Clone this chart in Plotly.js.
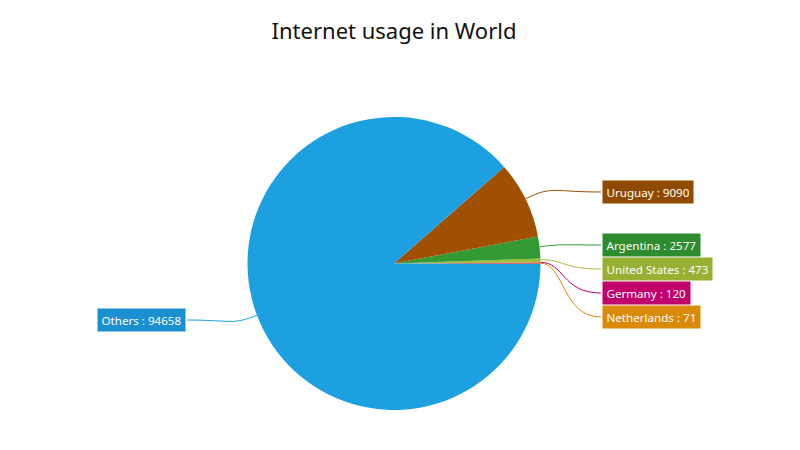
<!DOCTYPE html>
<html><head><meta charset="utf-8">
<script src="https://cdn.plot.ly/plotly-3.0.1.min.js"></script>
<style>html,body{margin:0;padding:0;background:#fff;}#chart{width:800px;height:450px;}</style>
</head><body><div id="chart"></div>
<script>
// Data
var countries = ["Netherlands", "Germany", "United States", "Argentina", "Uruguay", "Others"];
var users = [71, 120, 473, 2577, 9090, 94658];
var sliceColors = ["#E08A00", "#CC0070", "#A0BE3C", "#339933", "#A05000", "#1DA0E0"];
var labelColors = ["#D98A0A", "#C2006B", "#97B033", "#2E8B2E", "#8F4A00", "#1A90D0"];

// Layout constants (pixels)
var W = 800, H = 450;
var cx = 394, cy = 263.5, R = 146.5;
var rightLabelX = 602;
var labelCenterY = {"Uruguay": 192, "Argentina": 245, "United States": 269, "Germany": 293, "Netherlands": 317, "Others": 320};
var leftLabelRightX = 186;

function px(x){ return x / W; }
function py(y){ return 1 - y / H; }

var total = users.reduce(function(a,b){return a+b;}, 0);
var shapes = [], annotations = [];
var cum = 0;
for (var i = 0; i < countries.length; i++) {
  var a0 = cum / total * 360;
  cum += users[i];
  var a1 = cum / total * 360;
  var mid = (a0 + a1) / 2 * Math.PI / 180;
  var ex = cx + R * Math.cos(mid), ey = cy - R * Math.sin(mid);
  var ly = labelCenterY[countries[i]];
  var right = Math.cos(mid) >= 0;
  var endX = right ? rightLabelX - 1 : leftLabelRightX + 1;
  var dx = endX - ex;
  var c1x = ex + Math.cos(mid) * Math.abs(dx) * 0.4, c1y = ey - Math.sin(mid) * Math.abs(dx) * 0.4;
  var c2x = ex + dx * 0.35, c2y = ly;
  var path = "M " + px(ex) + "," + py(ey) + " C " + px(c1x) + "," + py(c1y) + " " + px(c2x) + "," + py(c2y) + " " + px(endX) + "," + py(ly);
  shapes.push({type: "path", xref: "paper", yref: "paper", path: path, line: {color: sliceColors[i], width: 1}});
  annotations.push({
    xref: "paper", yref: "paper",
    x: right ? px(rightLabelX) : px(leftLabelRightX),
    y: py(ly),
    xanchor: right ? "left" : "right", yanchor: "middle",
    text: countries[i] + " : " + users[i],
    showarrow: false,
    bgcolor: labelColors[i],
    borderpad: 3.5,
    font: {family: "Noto Sans, Open Sans, sans-serif", size: 11.6, color: "#ffffff"}
  });
}

var trace = {
  type: "pie",
  values: users,
  labels: countries,
  sort: false,
  direction: "counterclockwise",
  rotation: 90,
  marker: {colors: sliceColors, line: {width: 0}},
  textinfo: "none",
  hoverinfo: "label+value",
  showlegend: false,
  domain: {x: [px(cx - R), px(cx + R)], y: [py(cy + R), py(cy - R)]}
};

var layout = {
  width: W, height: H,
  margin: {l: 0, r: 0, t: 0, b: 0},
  paper_bgcolor: "#ffffff",
  title: {text: "Internet usage in World", x: px(394), xanchor: "center", y: py(31), yanchor: "middle", xref: "paper", yref: "paper",
          font: {family: "Noto Sans, Open Sans, sans-serif", size: 22, color: "#111111"}},
  shapes: shapes,
  annotations: annotations
};

Plotly.newPlot("chart", [trace], layout, {displayModeBar: false, staticPlot: true});
</script></body></html>
